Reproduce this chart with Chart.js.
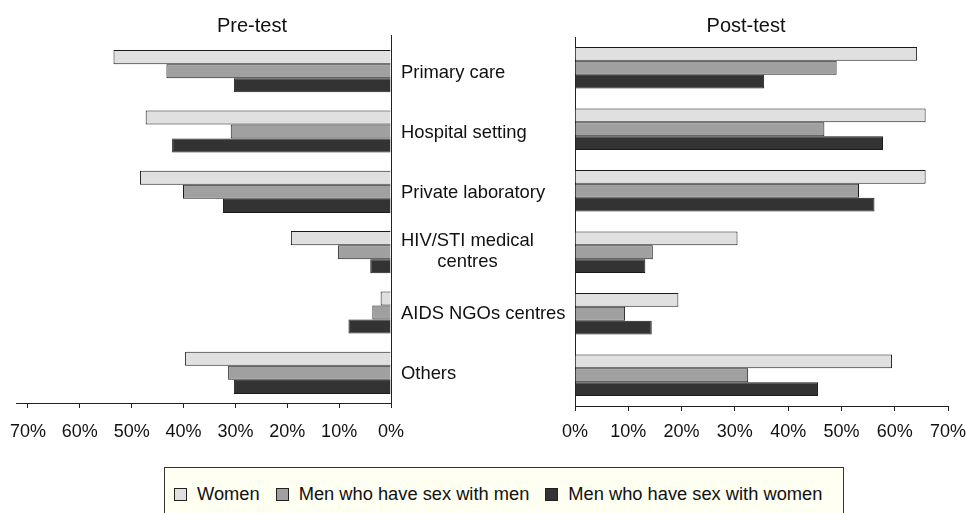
<!DOCTYPE html>
<html><head><meta charset="utf-8">
<script src="https://cdn.jsdelivr.net/npm/chart.js@4/dist/chart.umd.min.js"></script>
<style>
html,body{margin:0;padding:0;background:#fff;width:966px;height:513px;overflow:hidden;font-family:'Liberation Sans',Arial,Helvetica,sans-serif;}
canvas{position:absolute;left:0;top:0;}
#legend{position:absolute;left:164px;top:467px;width:680px;height:60px;background:#fffff2;border:1px solid #333;box-sizing:border-box;display:flex;align-items:flex-start;padding:17px 0 0 9px;}
.item{display:flex;align-items:center;margin-right:16px;font-size:18.3px;color:#111;line-height:18px;white-space:nowrap;}
.sw{display:inline-block;width:11px;height:11px;border:1px solid #222;margin-right:10px;}
</style></head>
<body>
<canvas id="c1" width="966" height="513" style="width:966px;height:513px"></canvas>
<canvas id="c2" width="966" height="513" style="width:966px;height:513px"></canvas>
<div id="legend"></div>
<script>
// ---- data ----
const categories = ['Primary care', 'Hospital setting', 'Private laboratory', ['HIV/STI medical', 'centres'], 'AIDS NGOs centres', 'Others'];
const seriesNames = ['Women', 'Men who have sex with men', 'Men who have sex with women'];
const preWomen  = [53.5, 47.3, 48.4, 19.3, 2.0, 39.7];
const preMSM    = [43.3, 30.9, 40.1, 10.2, 3.6, 31.4];
const preMSW    = [30.3, 42.2, 32.4, 4.0, 8.2, 30.3];
const postWomen = [64.2, 65.8, 65.8, 30.5, 19.4, 59.5];
const postMSM   = [49.1, 46.8, 53.3, 14.6, 9.4, 32.5];
const postMSW   = [35.5, 57.8, 56.2, 13.2, 14.4, 45.6];
const tickValues = [0, 10, 20, 30, 40, 50, 60, 70];
const panelTitles = ['Pre-test', 'Post-test'];

// ---- styles ----
const fillColors = ['#e0e0e0', '#a0a0a0', '#333333'];
const FONT = "'Liberation Sans', Arial, Helvetica, sans-serif";
const AXIS = '#222';
Chart.defaults.font.family = FONT;

function datasets(vals, catPct) {
  return vals.map((v, i) => ({
    label: seriesNames[i], data: v,
    backgroundColor: fillColors[i], borderColor: '#1a1a1a', borderWidth: 1,
    borderSkipped: 'start', barPercentage: 1, categoryPercentage: catPct
  }));
}

const XH = 45;
function xScale(opts, pad) {
  return Object.assign({
    type: 'linear', min: 0,
    afterBuildTicks: s => { s.ticks = tickValues.map(v => ({ value: v })); },
    afterFit: s => { s.height = XH; s.paddingLeft = 0; s.paddingRight = 0; },
    ticks: { callback: v => v + '%', font: { size: 18 }, color: '#111', maxRotation: 0, autoSkip: false, padding: pad },
    grid: { display: true, drawOnChartArea: false, drawTicks: true, tickLength: 5, color: AXIS, lineWidth: 1 },
    border: { display: true, color: AXIS, width: 1 }
  }, opts);
}
function yScale(pos) {
  return {
    type: 'category', position: pos,
    ticks: { display: false }, grid: { display: false },
    border: { display: true, color: AXIS, width: 1 },
    afterFit: s => { s.width = 0; }
  };
}

const labelPlugin = {
  id: 'catLabels',
  afterDraw(chart, args, o) {
    const ctx = chart.ctx;
    const ca = chart.chartArea;
    ctx.save();
    // axis stub above plot area (left panel)
    if (o.stub) {
      const ax = Math.round(o.stubRight ? ca.right : ca.left) + 0.5;
      ctx.strokeStyle = AXIS; ctx.lineWidth = 1;
      ctx.beginPath(); ctx.moveTo(ax, ca.top - o.stub); ctx.lineTo(ax, ca.top); ctx.stroke();
    }
    ctx.fillStyle = '#111';
    ctx.textBaseline = 'alphabetic';
    ctx.font = '20px ' + FONT;
    ctx.textAlign = 'center';
    ctx.fillText(o.title, o.titleX, 31.5);
    if (o.drawCats) {
      const y = chart.scales.y;
      const x0 = ca.right + 10;
      ctx.font = '18.4px ' + FONT;
      ctx.textAlign = 'left';
      categories.forEach((c, i) => {
        const py = y.getPixelForValue(i);
        if (Array.isArray(c)) {
          const w1 = ctx.measureText(c[0]).width;
          ctx.fillText(c[0], x0, py - 6.5);
          ctx.textAlign = 'center';
          ctx.fillText(c[1], x0 + w1 / 2, py + 15);
          ctx.textAlign = 'left';
        } else {
          ctx.fillText(c, x0, py + 6.4);
        }
      });
    }
    ctx.restore();
  }
};

new Chart(document.getElementById('c1'), {
  type: 'bar',
  data: { labels: categories, datasets: datasets([preWomen, preMSM, preMSW], 0.7) },
  plugins: [labelPlugin],
  options: {
    responsive: false, animation: false, indexAxis: 'y',
    layout: { padding: { left: 16, right: 575, top: 41, bottom: 513 - 403 - XH } },
    scales: {
      x: xScale({ reverse: true, max: 72.3 }, 13),
      y: yScale('right')
    },
    plugins: { legend: { display: false }, tooltip: { enabled: false },
      catLabels: { title: panelTitles[0], titleX: 252, drawCats: true, stub: 6, stubRight: true } }
  }
});

new Chart(document.getElementById('c2'), {
  type: 'bar',
  data: { labels: categories, datasets: datasets([postWomen, postMSM, postMSW], 0.675) },
  plugins: [labelPlugin],
  options: {
    responsive: false, animation: false, indexAxis: 'y',
    layout: { padding: { left: 575, right: 18, top: 37, bottom: 513 - 406 - XH } },
    scales: {
      x: xScale({ max: 70 }, 10.5),
      y: yScale('left')
    },
    plugins: { legend: { display: false }, tooltip: { enabled: false },
      catLabels: { title: panelTitles[1], titleX: 746, drawCats: false, stub: 0 } }
  }
});

// legend
const lg = document.getElementById('legend');
seriesNames.forEach((n, i) => {
  const it = document.createElement('div'); it.className = 'item';
  const sw = document.createElement('span'); sw.className = 'sw'; sw.style.background = fillColors[i];
  const tx = document.createElement('span'); tx.textContent = n;
  it.appendChild(sw); it.appendChild(tx); lg.appendChild(it);
});
</script>
</body></html>
